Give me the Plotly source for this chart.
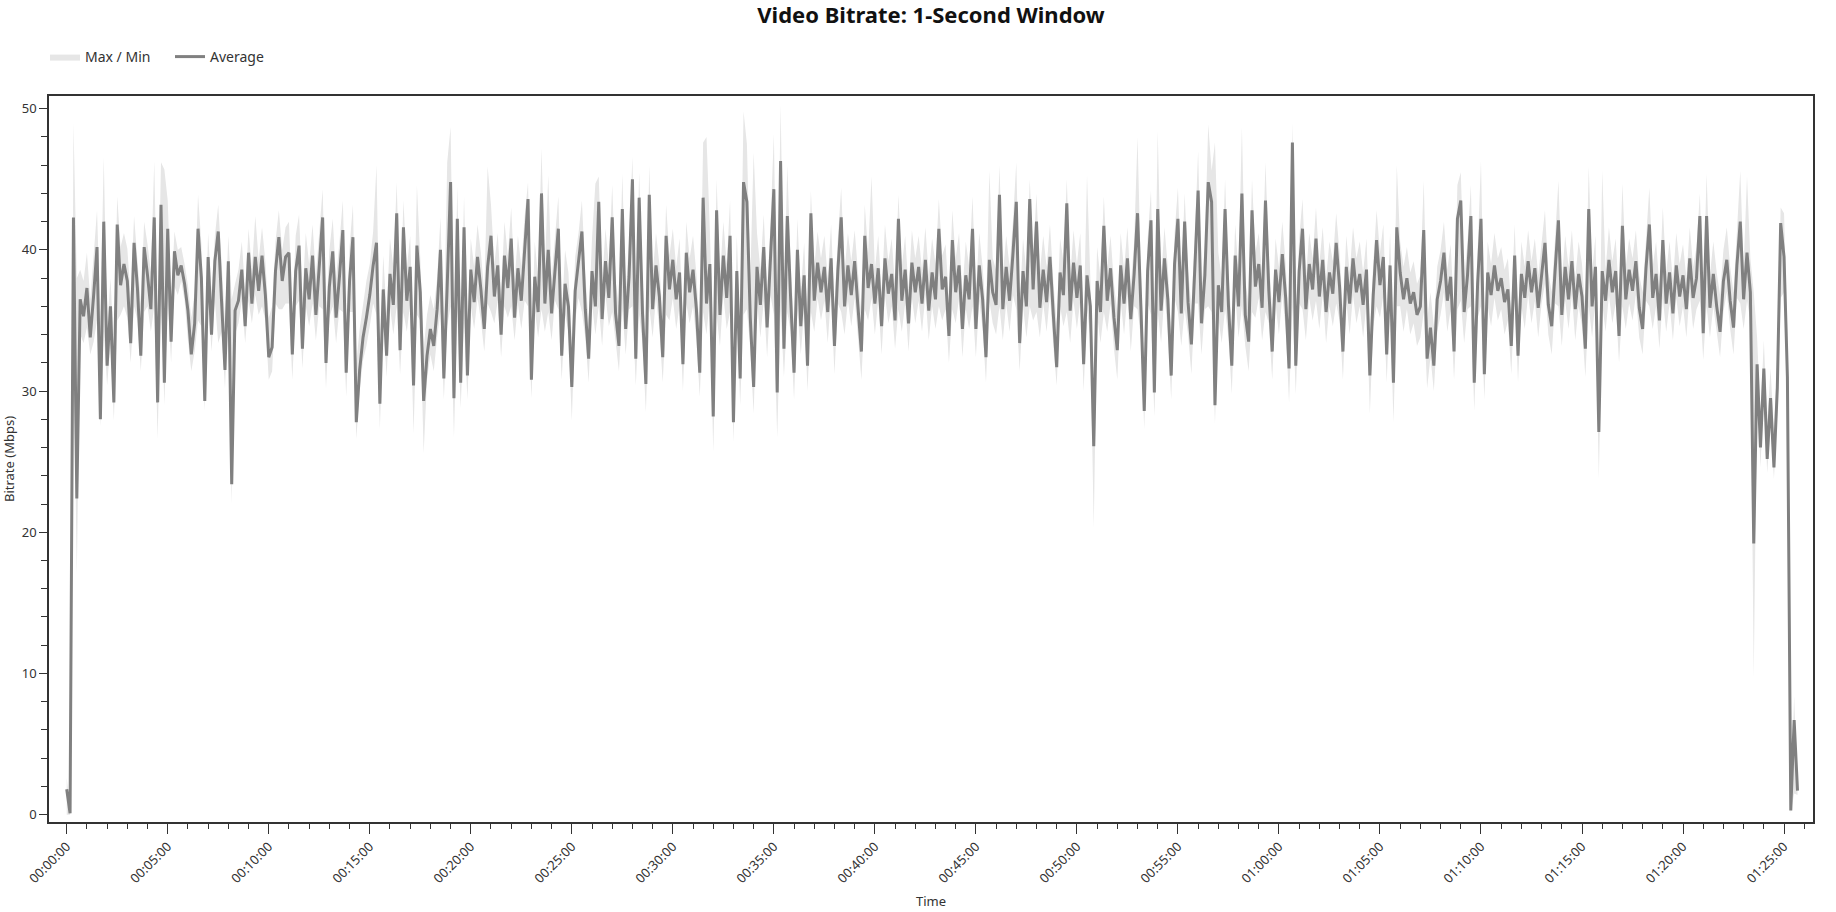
import plotly.graph_objects as go

# ---- data (one row = one minute, samples every 10 s) ----
SAMPLE_STEP_S = 10

AVG_MBPS = [
    1.8, 0.1, 42.3, 22.4, 36.5, 35.3,
    37.3, 33.8, 36.8, 40.2, 28.0, 42.0,
    31.8, 36.0, 29.2, 41.8, 37.5, 39.0,
    37.8, 33.4, 40.5, 37.3, 32.5, 40.2,
    38.2, 35.8, 42.3, 29.2, 43.2, 30.6,
    41.5, 33.5, 39.9, 38.2, 38.9, 37.6,
    35.7, 32.6, 34.8, 41.5, 38.0, 29.3,
    39.5, 34.0, 39.2, 41.3, 36.3, 31.5,
    39.2, 23.4, 35.7, 36.4, 38.6, 34.6,
    39.8, 36.2, 39.5, 37.1, 39.6, 36.8,
    32.4, 33.1, 38.5, 40.9, 37.8, 39.5,
    39.8, 32.6, 38.5, 40.3, 33.0, 38.7,
    36.5, 39.6, 35.4, 38.8, 42.3, 32.0,
    37.4, 39.9, 35.2, 38.1, 41.4, 31.3,
    37.8, 40.9, 27.8, 31.5, 33.8, 35.2,
    36.8, 38.9, 40.5, 29.1, 37.2, 32.5,
    38.3, 36.1, 42.6, 32.9, 41.6, 36.4,
    38.8, 30.4, 40.3, 37.0, 29.3, 32.5,
    34.4, 33.2, 35.8, 40.0, 30.9, 37.5,
    44.8, 29.5, 42.2, 30.6, 41.6, 31.1,
    38.6, 36.3, 39.5, 37.2, 34.4, 38.8,
    41.0, 36.7, 38.9, 34.0, 39.6, 37.3,
    40.8, 35.2, 38.7, 36.4, 40.2, 43.6,
    30.8, 38.1, 35.6, 44.0, 36.2, 40.0,
    35.5, 38.8, 41.5, 32.5, 37.6, 36.0,
    30.3, 37.1, 39.0, 41.3, 35.8, 32.3,
    38.5, 36.0, 43.4, 35.1, 39.2, 36.6,
    42.3, 35.5, 33.2, 42.9, 34.4, 38.1,
    45.0, 32.3, 43.7, 35.5, 30.5, 43.9,
    35.8, 38.9, 36.7, 32.4, 41.0, 37.2,
    39.3, 36.5, 38.4, 31.9, 39.8, 37.0,
    38.6, 35.8, 31.3, 43.7, 36.2, 39.0,
    28.2, 42.8, 35.4, 39.6, 36.6, 41.0,
    27.8, 38.5, 30.9, 44.8, 43.4, 35.2,
    30.3, 38.8, 36.1, 40.2, 34.5, 39.5,
    44.3, 29.9, 46.3, 33.0, 42.4, 36.5,
    31.3, 40.0, 34.6, 38.2, 31.8, 42.6,
    36.4, 39.1, 37.0, 38.8, 35.6, 39.4,
    33.2, 38.5, 42.3, 36.0, 38.9, 36.8,
    39.2, 35.9, 32.8, 41.0, 37.3, 39.0,
    36.2, 38.7, 34.6, 39.4, 36.9, 38.3,
    35.0, 42.2, 36.4, 38.6, 34.8, 39.1,
    37.0, 38.8, 36.2, 39.3, 35.7, 38.4,
    36.5, 41.5, 37.2, 38.1, 33.9, 40.7,
    37.0, 38.9, 34.4, 38.2, 36.5, 41.5,
    34.4, 38.9, 36.5, 32.4, 39.3, 37.0,
    36.1, 43.9, 35.8, 38.8, 36.4, 39.7,
    43.4, 33.4, 38.5, 36.0, 43.6, 37.2,
    42.0, 35.9, 38.6, 36.3, 39.5, 35.4,
    31.7, 38.4, 36.8, 43.3, 35.7, 39.1,
    36.6, 38.9, 31.9, 38.2, 36.0, 26.1,
    37.8, 35.6, 41.7, 36.4, 38.7, 35.2,
    32.9, 38.9, 36.2, 39.4, 35.1, 38.3,
    42.6, 36.0, 28.6, 38.5, 42.1, 29.9,
    42.9, 35.7, 39.4, 36.5, 31.1, 39.0,
    42.2, 35.5, 42.0, 36.3, 33.3, 38.6,
    44.2, 34.8, 38.2, 44.8, 43.4, 29.0,
    37.5, 35.6, 42.9, 36.1, 31.8, 39.6,
    36.0, 44.0, 35.4, 33.5, 42.8, 37.4,
    39.0, 35.9, 43.5, 37.1, 32.8, 38.6,
    36.3, 39.7, 36.6, 31.6, 47.6, 31.8,
    38.5, 41.5, 35.8, 39.0, 37.2, 40.8,
    36.7, 39.3, 35.6, 38.4, 36.9, 40.5,
    37.4, 32.8, 38.8, 36.2, 39.4, 37.0,
    38.3, 36.1, 38.6, 31.1, 36.8, 40.7,
    37.5, 39.5, 32.6, 38.9, 30.6, 41.6,
    38.4, 36.5, 38.0, 36.2, 37.0, 35.4,
    36.0, 41.4, 32.3, 34.5, 31.8, 36.5,
    37.8, 39.8, 36.4, 38.1, 32.8, 42.2,
    43.5, 35.6, 38.2, 42.4, 30.6, 37.6,
    42.2, 31.2, 38.4, 36.8, 38.9, 37.1,
    38.0, 36.3, 37.2, 33.2, 39.6, 32.5,
    38.3, 36.6, 39.2, 37.0, 38.7, 35.9,
    38.4, 40.5, 36.1, 34.6, 38.5, 42.1,
    35.4, 38.8, 36.5, 39.2, 35.8, 38.3,
    36.7, 33.0, 42.9, 36.0, 38.8, 27.1,
    38.5, 36.4, 39.3, 37.0, 38.5, 33.9,
    41.7, 36.5, 38.6, 37.1, 39.2, 35.9,
    34.4, 38.7, 41.8, 36.6, 38.3, 35.0,
    40.7, 36.2, 38.4, 35.5, 38.9, 36.7,
    38.2, 35.8, 39.4, 36.6, 38.0, 42.4,
    34.1, 42.4, 35.9, 38.3, 36.0, 34.2,
    37.8, 39.3, 36.4, 34.5, 38.9, 42.0,
    36.5, 39.8, 37.0, 19.2, 31.9, 26.0,
    31.6, 25.2, 29.5, 24.6, 30.2, 41.9,
    39.5, 31.0, 0.3, 6.7, 1.7,
]

MAX_MBPS = [
    2.6, 0.4, 49.0, 38.0, 38.6, 37.8,
    39.8, 36.5, 39.6, 42.8, 35.0, 46.6,
    34.5, 38.0, 33.0, 43.8, 40.2, 41.2,
    40.1, 36.6, 42.4, 39.5, 36.2, 42.0,
    40.4, 38.4, 46.3, 33.8, 46.2, 45.7,
    43.5, 36.5, 41.3, 40.0, 40.2, 39.0,
    37.5, 35.2, 37.0, 43.9, 40.4, 33.5,
    41.2, 37.0, 41.0, 43.2, 38.6, 35.0,
    41.0, 36.5, 37.6, 38.6, 40.6, 37.0,
    41.5, 38.6, 42.4, 39.3, 41.6, 39.2,
    35.2, 36.0, 40.6, 42.8, 40.0, 41.6,
    42.0, 35.5, 41.0, 42.5, 36.6, 41.2,
    39.0, 41.8, 38.2, 41.0, 44.3, 35.2,
    40.0, 42.2, 38.0, 40.6, 43.5, 34.6,
    40.2, 43.2, 32.0, 34.4, 36.2, 37.8,
    39.0, 41.3, 46.0, 32.5, 39.6, 35.6,
    40.8, 38.8, 44.8, 35.8, 43.5, 38.7,
    41.0, 33.4, 44.6, 39.4, 33.0, 35.4,
    36.8, 35.8, 38.0, 42.3, 34.0, 46.2,
    48.7, 33.0, 44.5, 34.0, 43.8, 34.2,
    40.8, 38.8, 41.8, 39.8, 37.0, 45.9,
    43.2, 39.0, 41.2, 37.0, 42.0, 39.6,
    43.0, 37.8, 41.0, 38.8, 42.4, 44.8,
    33.5, 40.6, 38.0, 47.2, 38.6, 45.3,
    38.0, 41.2, 43.8, 35.2, 40.0, 38.4,
    33.6, 39.5, 41.2, 43.5, 38.2, 35.0,
    40.8, 44.7, 45.2, 37.6, 41.5, 39.0,
    44.6, 37.8, 36.0, 45.4, 37.0, 40.5,
    46.6, 35.2, 45.5, 38.0, 33.6, 46.0,
    38.2, 41.2, 39.0, 35.0, 43.2, 39.6,
    41.5, 38.8, 40.8, 34.6, 42.0, 39.4,
    41.0, 38.3, 34.0, 47.6, 48.0, 41.4,
    33.0, 45.0, 38.0, 42.0, 39.0, 43.5,
    31.5, 41.0, 34.5, 49.8, 47.5, 38.0,
    46.9, 41.2, 38.6, 42.5, 37.0, 41.8,
    48.2, 33.5, 50.3, 36.5, 46.0, 39.0,
    34.5, 42.2, 37.0, 40.5, 35.0, 44.2,
    38.8, 41.3, 39.4, 41.0, 38.0, 41.8,
    36.0, 40.8, 44.4, 38.5, 41.2, 39.2,
    41.4, 38.4, 35.5, 43.2, 39.8, 45.2,
    38.6, 41.0, 37.0, 41.8, 39.2, 40.8,
    37.4, 43.9, 38.8, 41.0, 37.2, 41.4,
    39.4, 41.0, 38.6, 41.6, 38.2, 40.8,
    39.0, 43.6, 39.6, 40.4, 36.4, 42.8,
    39.4, 41.2, 37.0, 40.6, 38.8, 43.8,
    37.0, 41.2, 38.8, 35.4, 45.6, 39.4,
    38.6, 46.0, 38.2, 41.0, 38.8, 42.0,
    46.2, 36.0, 40.8, 38.4, 45.0, 39.6,
    44.0, 38.4, 41.0, 38.8, 41.8, 37.8,
    34.8, 40.8, 39.2, 45.0, 38.0, 41.4,
    39.0, 41.2, 34.8, 45.3, 38.4, 30.5,
    40.2, 38.0, 43.8, 38.8, 41.0, 37.6,
    35.6, 41.2, 38.6, 41.6, 37.4, 40.6,
    48.0, 38.4, 32.0, 40.8, 44.2, 33.2,
    48.4, 38.0, 41.6, 38.8, 34.0, 41.2,
    44.4, 37.8, 44.0, 38.6, 36.0, 40.8,
    47.0, 37.2, 40.4, 48.9, 45.6, 47.6,
    39.8, 38.0, 45.0, 38.4, 34.6, 41.8,
    38.4, 48.7, 37.8, 36.2, 45.0, 39.8,
    41.2, 38.2, 46.2, 39.4, 35.6, 40.8,
    38.8, 42.0, 39.0, 34.4, 49.0, 34.6,
    40.8, 43.6, 38.0, 41.2, 39.4, 43.0,
    39.0, 41.6, 38.0, 40.6, 39.2, 42.6,
    39.8, 35.6, 41.0, 38.4, 41.6, 39.4,
    40.6, 38.4, 40.8, 34.2, 39.0, 42.8,
    39.8, 41.8, 35.0, 41.2, 33.8, 46.0,
    40.6, 38.8, 40.2, 38.4, 39.2, 37.6,
    38.2, 44.9, 35.0, 37.0, 34.6, 38.8,
    40.0, 42.0, 38.6, 40.4, 35.4, 44.6,
    45.5, 38.0, 40.6, 44.6, 33.6, 39.8,
    46.3, 34.0, 40.6, 39.0, 41.2, 39.4,
    40.2, 38.6, 39.4, 35.8, 41.8, 35.2,
    40.6, 38.8, 41.4, 39.2, 40.8, 38.2,
    40.6, 42.8, 38.4, 37.0, 40.8, 44.9,
    37.8, 41.0, 38.8, 41.4, 38.0, 40.6,
    39.0, 35.6, 45.9, 38.4, 41.0, 30.0,
    45.6, 38.6, 41.6, 39.2, 40.8, 36.6,
    44.7, 38.8, 40.8, 39.4, 41.4, 38.2,
    37.0, 41.0, 44.4, 38.8, 40.6, 37.4,
    43.0, 38.4, 40.6, 37.8, 41.2, 39.0,
    40.4, 38.0, 41.6, 38.8, 40.2, 44.0,
    36.6, 45.4, 38.2, 40.6, 38.4, 36.8,
    40.0, 41.6, 38.8, 37.0, 41.2, 45.6,
    38.8, 45.2, 39.4, 37.0, 33.8, 28.4,
    33.6, 27.8, 31.6, 27.0, 32.4, 43.0,
    42.6, 34.0, 0.5, 8.4, 2.0,
]

MIN_MBPS = [
    0.0, 0.0, 33.8, 17.0, 34.0, 33.4,
    34.5, 32.6, 33.5, 35.0, 27.5, 34.2,
    30.4, 33.4, 27.9, 35.0, 35.4, 36.0,
    35.2, 32.0, 36.0, 35.0, 31.4, 35.6,
    36.0, 34.2, 36.0, 26.6, 37.0, 29.0,
    36.4, 32.0, 37.4, 36.8, 37.8, 36.4,
    33.6, 31.4, 32.8, 35.0, 34.6, 28.6,
    36.8, 32.8, 36.4, 33.4, 34.2, 30.2,
    36.0, 22.0, 34.0, 34.8, 36.4, 33.4,
    36.4, 34.8, 36.8, 35.4, 36.0, 35.0,
    30.8, 31.4, 36.2, 35.8, 35.8, 36.2,
    36.2, 30.8, 36.0, 36.4, 31.6, 36.0,
    34.6, 36.2, 33.6, 36.0, 35.8, 30.2,
    35.2, 36.0, 33.4, 35.8, 35.6, 29.6,
    35.6, 35.6, 26.6, 30.0, 32.2, 33.2,
    34.6, 36.2, 35.4, 27.3, 35.0, 31.0,
    36.0, 34.0, 36.0, 31.2, 35.6, 34.2,
    36.2, 27.0, 35.4, 35.0, 25.6, 30.8,
    32.6, 31.4, 33.8, 35.6, 29.4, 34.6,
    36.0, 26.7, 35.6, 28.8, 34.8, 29.4,
    36.0, 34.4, 36.6, 35.0, 32.8, 36.2,
    35.6, 34.8, 36.4, 32.4, 36.0, 35.2,
    36.0, 33.6, 36.2, 34.4, 36.4, 36.0,
    29.5, 35.8, 33.8, 35.8, 34.2, 35.6,
    33.6, 36.4, 35.8, 30.8, 35.4, 34.2,
    27.9, 35.0, 36.6, 35.6, 33.8, 30.6,
    36.2, 34.0, 36.0, 33.2, 36.8, 34.6,
    35.6, 33.4, 31.4, 35.8, 32.6, 35.8,
    36.0, 30.4, 35.4, 33.4, 28.5, 36.0,
    33.8, 36.6, 34.4, 30.6, 35.4, 35.0,
    36.6, 34.4, 36.0, 30.0, 36.2, 34.8,
    36.0, 33.6, 29.6, 35.6, 34.0, 36.6,
    25.7, 35.4, 33.2, 36.8, 34.4, 35.6,
    26.4, 35.8, 29.0, 35.4, 35.8, 33.0,
    28.4, 36.4, 33.8, 36.4, 32.4, 36.8,
    35.4, 26.7, 35.8, 31.0, 35.6, 34.2,
    29.4, 35.8, 32.6, 35.8, 30.0, 35.6,
    34.2, 36.6, 35.0, 36.4, 33.4, 36.8,
    31.2, 36.2, 35.6, 34.0, 36.4, 34.6,
    36.6, 33.8, 30.8, 35.8, 35.0, 36.6,
    34.0, 36.4, 32.6, 36.8, 34.8, 36.0,
    33.0, 35.8, 34.2, 36.2, 32.8, 36.6,
    34.8, 36.4, 34.2, 36.8, 33.6, 36.0,
    34.4, 36.0, 35.0, 35.8, 32.0, 35.8,
    34.8, 36.6, 32.4, 35.8, 34.4, 36.0,
    32.4, 36.4, 34.4, 30.6, 36.4, 34.8,
    34.0, 36.0, 33.6, 36.2, 34.2, 36.8,
    35.8, 31.4, 36.0, 33.8, 36.0, 35.0,
    35.6, 33.8, 36.2, 34.2, 36.8, 33.2,
    30.4, 36.0, 34.6, 35.6, 33.4, 36.4,
    34.4, 36.4, 30.0, 35.8, 33.8, 20.3,
    35.4, 33.4, 35.6, 34.2, 36.2, 33.0,
    30.8, 36.4, 34.0, 36.8, 32.8, 36.0,
    35.8, 33.8, 27.3, 36.2, 35.4, 28.2,
    35.6, 33.4, 36.8, 34.2, 29.4, 36.6,
    35.6, 33.2, 35.8, 34.0, 31.2, 36.2,
    36.2, 32.6, 35.8, 36.0, 35.6, 27.7,
    35.2, 33.4, 35.8, 33.8, 29.8, 36.8,
    33.8, 36.0, 33.2, 31.4, 35.6, 35.2,
    36.6, 33.6, 35.6, 34.8, 30.8, 36.2,
    34.0, 36.8, 34.4, 29.2, 36.0, 29.8,
    36.2, 35.8, 33.6, 36.6, 35.0, 36.4,
    34.4, 36.8, 33.4, 36.0, 34.6, 36.2,
    35.0, 30.8, 36.4, 34.0, 36.8, 34.8,
    36.0, 33.8, 36.2, 28.4, 34.6, 36.0,
    35.2, 36.8, 30.6, 36.4, 27.8, 36.0,
    36.0, 34.2, 35.8, 34.0, 34.8, 33.2,
    33.8, 35.6, 30.2, 32.4, 30.0, 34.2,
    35.4, 37.0, 34.2, 35.8, 30.8, 35.8,
    36.4, 33.4, 35.8, 36.0, 28.6, 35.2,
    36.0, 29.4, 36.0, 34.6, 36.6, 35.0,
    35.8, 34.0, 35.0, 31.2, 36.8, 30.6,
    36.0, 34.4, 36.8, 34.8, 36.4, 33.8,
    36.2, 37.6, 34.0, 32.6, 36.2, 36.0,
    33.2, 36.4, 34.4, 36.8, 33.6, 36.0,
    34.6, 31.0, 36.0, 33.8, 36.6, 23.8,
    36.2, 34.2, 36.8, 34.8, 36.2, 32.0,
    36.0, 34.4, 36.2, 35.0, 36.8, 33.8,
    32.6, 36.4, 36.0, 34.4, 36.0, 33.0,
    36.6, 34.2, 36.2, 33.6, 36.6, 34.6,
    36.0, 33.8, 37.0, 34.4, 35.8, 36.4,
    32.2, 36.0, 33.8, 36.0, 34.0, 32.4,
    35.6, 37.0, 34.4, 32.6, 36.6, 36.2,
    34.4, 36.4, 35.0, 9.7, 30.2, 24.6,
    29.8, 24.2, 27.6, 23.8, 28.4, 36.6,
    37.0, 29.6, 0.1, 1.5, 1.4,
]

TICK_SECONDS = [0, 300, 600, 900, 1200, 1500, 1800, 2100, 2400,
                2700, 3000, 3300, 3600, 3900, 4200, 4500, 4800, 5100]
TICK_LABELS = ["00:00:00", "00:05:00", "00:10:00", "00:15:00", "00:20:00",
               "00:25:00", "00:30:00", "00:35:00", "00:40:00", "00:45:00",
               "00:50:00", "00:55:00", "01:00:00", "01:05:00", "01:10:00",
               "01:15:00", "01:20:00", "01:25:00"]

# ---- figure ----
times = [i * SAMPLE_STEP_S for i in range(len(AVG_MBPS))]

BAND = "#e6e6e6"
LINE = "#808080"
AXIS = "#333333"
FONT = "Noto Sans"

fig = go.Figure()
fig.add_trace(go.Scatter(
    x=times, y=MAX_MBPS, mode="lines", line=dict(width=0, color=BAND),
    showlegend=False, hoverinfo="skip", legendgroup="band"))
fig.add_trace(go.Scatter(
    x=times, y=MIN_MBPS, mode="lines", line=dict(width=0, color=BAND),
    fill="tonexty", fillcolor=BAND, name="Max / Min", legendgroup="band"))
fig.add_trace(go.Scatter(
    x=times, y=AVG_MBPS, mode="lines", line=dict(width=3, color=LINE),
    name="Average"))

fig.update_layout(
    width=1836, height=912,
    margin=dict(l=49, r=23, t=96, b=90),
    paper_bgcolor="white", plot_bgcolor="white",
    font=dict(family=FONT, size=13, color="#333333"),
    title=dict(text="<b>Video Bitrate: 1-Second Window</b>",
               x=0.5, xref="paper", xanchor="center",
               y=1 - 15 / 912, yref="container", yanchor="middle",
               font=dict(family=FONT, size=22, color="#111111")),
    legend=dict(orientation="h", x=45 / 1836, xref="container", xanchor="left",
                y=1 - 57 / 912, yref="container", yanchor="middle",
                entrywidth=80, entrywidthmode="pixels",
                font=dict(family=FONT, size=14, color="#333333"),
                bgcolor="rgba(0,0,0,0)"),
    showlegend=True,
)

fig.update_xaxes(
    range=[-52.6, 5186], automargin=False,
    tickmode="array", tickvals=TICK_SECONDS, ticktext=TICK_LABELS,
    tickangle=-45,
    ticks="outside", ticklen=10, tickwidth=1, tickcolor=AXIS,
    minor=dict(dtick=60, tick0=0, ticks="outside", ticklen=5, tickcolor=AXIS, showgrid=False),
    showline=True, linecolor=AXIS, linewidth=1.5, mirror=True,
    showgrid=False, zeroline=False,
    tickfont=dict(family=FONT, size=13, color="#333333"),
    title=dict(text="Time", font=dict(family=FONT, size=13, color="#333333"), standoff=11),
)
fig.update_yaxes(
    range=[-0.52, 50.9], automargin=False,
    tickmode="linear", tick0=0, dtick=10,
    ticks="outside", ticklen=8, tickwidth=1, tickcolor=AXIS,
    minor=dict(dtick=2, tick0=0, ticks="outside", ticklen=6, tickcolor=AXIS, showgrid=False),
    showline=True, linecolor=AXIS, linewidth=1.5, mirror=True,
    showgrid=False, zeroline=False,
    tickfont=dict(family=FONT, size=13, color="#333333"),
    title=dict(text="Bitrate (Mbps)", font=dict(family=FONT, size=13, color="#333333"), standoff=6),
)

fig.write_html("out.html",
               config={"displayModeBar": False},
               post_script="document.body.style.margin='0';document.body.style.overflow='hidden';")
